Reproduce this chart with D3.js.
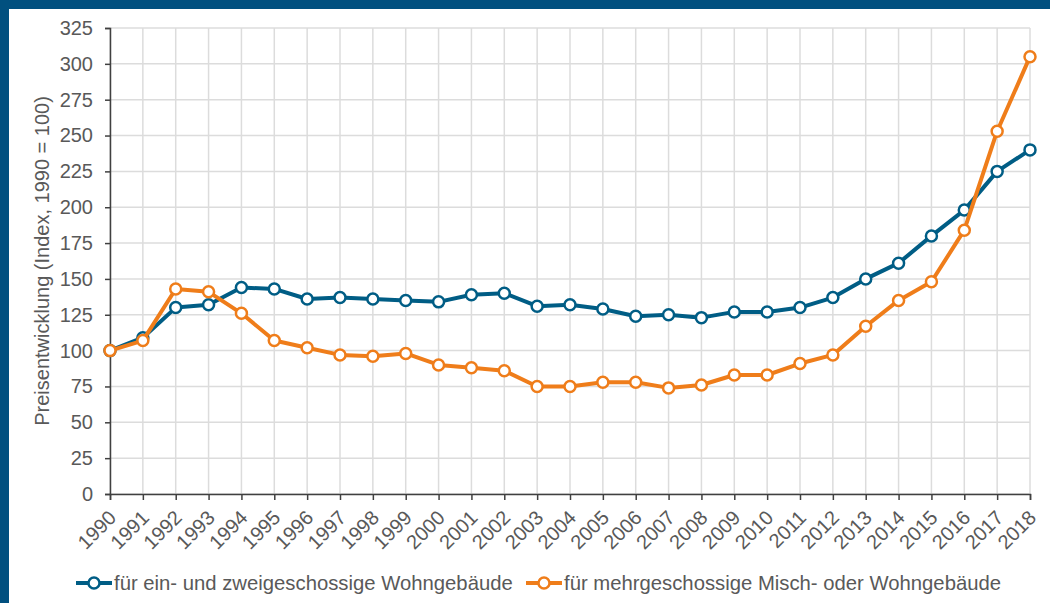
<!DOCTYPE html>
<html>
<head>
<meta charset="utf-8">
<script src="https://cdn.jsdelivr.net/npm/d3@7"></script>
<style>
  html, body { margin: 0; padding: 0; background: #fff; }
  #main { width: 1050px; height: 603px; }
  text { font-family: "Liberation Sans", Arial, sans-serif; fill: #595959; }
</style>
</head>
<body>
<div id="main"></div>
<script>
const years = d3.range(1990, 2019);
const einZwei = [100, 109, 130, 132, 144, 143, 136, 137, 136, 135, 134, 139, 140, 131, 132, 129, 124, 125, 123, 127, 127, 130, 137, 150, 161, 180, 198, 225, 240];
const mehr = [100, 107, 143, 141, 126, 107, 102, 97, 96, 98, 90, 88, 86, 75, 75, 78, 78, 74, 76, 83, 83, 91, 97, 117, 135, 148, 184, 253, 305];
const yTicks = d3.range(0, 326, 25);
const seriesNames = ["für ein- und zweigeschossige Wohngebäude", "für mehrgeschossige Misch- oder Wohngebäude"];

const ctx = {
    w: 1050,
    h: 603,
    left: 110,
    right: 1030,
    top: 28,
    bottom: 494,
    BLUE: "#005d85",
    ORANGE: "#ef7d1a",
    FRAME: "#01507f",
    FONT: "20px",
};

function createViz(){
    let svg = d3.select("#main").append("svg")
        .attr("width", ctx.w).attr("height", ctx.h);

    // dark blue frame, top and left
    svg.append("rect").attr("x", 0).attr("y", 0).attr("width", ctx.w).attr("height", 9).attr("fill", ctx.FRAME);
    svg.append("rect").attr("x", 0).attr("y", 0).attr("width", 9).attr("height", ctx.h).attr("fill", ctx.FRAME);

    const x = d3.scaleLinear().domain([1990, 2018]).range([ctx.left, ctx.right]);
    const y = d3.scaleLinear().domain([0, 325]).range([ctx.bottom, ctx.top]);

    // grid
    let grid = svg.append("g");
    grid.selectAll("line.h").data(yTicks).enter().append("line")
        .attr("x1", ctx.left).attr("x2", ctx.right)
        .attr("y1", d => y(d)).attr("y2", d => y(d))
        .attr("stroke", "#dcdcdc").attr("stroke-width", 1.5);
    grid.selectAll("line.v").data(years).enter().append("line")
        .attr("x1", d => x(d)).attr("x2", d => x(d))
        .attr("y1", ctx.top).attr("y2", ctx.bottom)
        .attr("stroke", "#dcdcdc").attr("stroke-width", 1.5);

    // axes
    let yAxis = svg.append("g").attr("transform", `translate(${ctx.left},0)`)
        .call(d3.axisLeft(y).tickValues(yTicks).tickSize(5).tickPadding(12));
    yAxis.select(".domain").attr("stroke", "#404040").attr("stroke-width", 1.5);
    yAxis.selectAll(".tick line").attr("stroke", "#404040").attr("stroke-width", 1.5);
    yAxis.selectAll("text").style("font-size", ctx.FONT).attr("fill", "#595959")
        .style("font-family", "Liberation Sans, Arial, sans-serif");

    let xAxis = svg.append("g").attr("transform", `translate(0,${ctx.bottom})`)
        .call(d3.axisBottom(x).tickValues(years).tickFormat(d3.format("d")).tickSize(6));
    xAxis.select(".domain").attr("stroke", "#404040").attr("stroke-width", 1.5);
    xAxis.selectAll(".tick line").attr("stroke", "#404040").attr("stroke-width", 1.5);
    xAxis.selectAll("text")
        .style("font-size", ctx.FONT).attr("fill", "#595959")
        .style("font-family", "Liberation Sans, Arial, sans-serif")
        .attr("text-anchor", "end")
        .attr("y", 0)
        .attr("dy", "0.35em")
        .attr("transform", "translate(2,20) rotate(-45)");

    // y label
    svg.append("text")
        .attr("transform", `translate(49,${(ctx.top + ctx.bottom) / 2}) rotate(-90)`)
        .attr("text-anchor", "middle")
        .style("font-size", ctx.FONT)
        .text("Preisentwicklung (Index, 1990 = 100)");

    // lines
    const line = d3.line().x((d, i) => x(years[i])).y(d => y(d));
    const series = [
        {values: einZwei, color: ctx.BLUE},
        {values: mehr, color: ctx.ORANGE},
    ];
    series.forEach(s => {
        svg.append("path").datum(s.values)
            .attr("d", line)
            .attr("fill", "none")
            .attr("stroke", s.color)
            .attr("stroke-width", 4)
            .attr("stroke-linejoin", "round");
        svg.append("g").selectAll("circle").data(s.values).enter().append("circle")
            .attr("cx", (d, i) => x(years[i]))
            .attr("cy", d => y(d))
            .attr("r", 5.5)
            .attr("fill", "#fff")
            .attr("stroke", s.color)
            .attr("stroke-width", 2.5);
    });

    // legend
    const legendPos = [76, 526];
    series.forEach((s, i) => {
        let g = svg.append("g").attr("transform", `translate(${legendPos[i]},583)`);
        g.append("line").attr("x1", 0).attr("x2", 36).attr("y1", 0).attr("y2", 0)
            .attr("stroke", s.color).attr("stroke-width", 4);
        g.append("circle").attr("cx", 18).attr("cy", 0).attr("r", 5.5)
            .attr("fill", "#fff").attr("stroke", s.color).attr("stroke-width", 2.5);
        g.append("text").attr("x", 38).attr("y", 0).attr("dy", "0.35em")
            .style("font-size", "20.3px")
            .text(seriesNames[i]);
    });
}

createViz();
</script>
</body>
</html>
